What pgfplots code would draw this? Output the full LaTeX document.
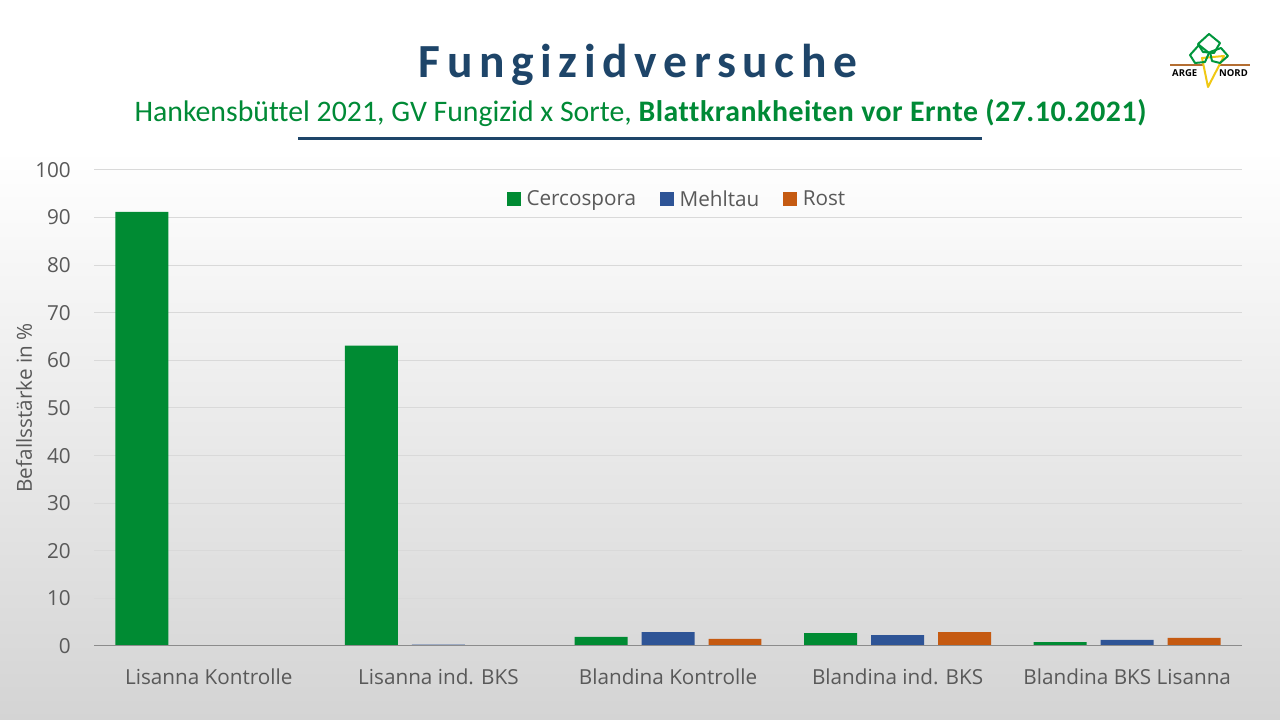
\documentclass[border=0pt]{standalone}
\usepackage{fontspec}
\setmainfont{Open Sans}
\newfontfamily\calibri[Ligatures=NoCommon]{Carlito}
\newfontfamily\calibrisp[LetterSpace=1.8,Ligatures=NoCommon]{Carlito}
\newfontfamily\titlefont[LetterSpace=14]{Carlito}
\usepackage{pgfplots}
\pgfplotsset{compat=1.18}
\definecolor{cgreen}{RGB}{0,139,51}
\definecolor{cblue}{RGB}{46,84,150}
\definecolor{corange}{RGB}{197,90,17}
\definecolor{ctext}{RGB}{89,89,89}
\definecolor{cgrid}{RGB}{217,217,217}
\definecolor{caxis}{RGB}{140,140,140}
\definecolor{ctitle}{RGB}{30,69,105}
\definecolor{csub}{RGB}{0,138,54}
\definecolor{bgbot}{RGB}{212,212,212}
\definecolor{logobrown}{RGB}{180,110,50}
\definecolor{logoyellow}{RGB}{240,200,20}
\definecolor{logogreen}{RGB}{0,150,60}
\newcommand\chartfont{\fontsize{20.7pt}{24pt}\selectfont}
\pgfplotstableread{
x cerc mehl rost
0 91.2 0   0
1 63.1 0.3 0
2 1.9  2.9 1.5
3 2.7  2.3 2.9
4 0.8  1.3 1.7
}\data
\begin{document}
\begin{tikzpicture}[x=1pt,y=1pt]
\fill[white] (0,0) rectangle (1280,720);
\shade[top color=white, bottom color=bgbot] (0,0) rectangle (1280,570);
\node[anchor=base, text=ctitle, inner sep=0] at (638,642) {\fontsize{47.5pt}{50pt}\titlefont\bfseries Fungizidversuche};
\node[anchor=base, text=csub, inner sep=0] at (640.5,598) {\fontsize{29.8pt}{32pt}\calibri Hankensbüttel 2021, GV Fungizid x Sorte, {\calibrisp\bfseries Blattkrankheiten vor Ernte (27.10.2021)}};
\draw[ctitle, line width=3pt] (298,581) -- (982,581);
% logo
\draw[logobrown, line width=1.5pt] (1170,655) -- (1250,655);
\draw[logoyellow, line width=2pt, fill=white, line join=round] (1202,662) -- (1208,633) -- (1224,664) -- cycle;
\draw[logogreen, line width=2pt, line join=round] (1190,665) -- (1199,675) -- (1209,667) -- (1205,658) -- (1195,657) -- cycle;
\draw[logogreen, line width=2pt, line join=round] (1198,676) -- (1209,686) -- (1220,677) -- (1214,667) -- (1203,668) -- cycle;
\draw[logogreen, line width=2pt, line join=round] (1210,668) -- (1221,672) -- (1228,664) -- (1220,657) -- (1212,659) -- cycle;
\node[anchor=base west, inner sep=0] at (1172,643) {\fontsize{9.5pt}{10pt}\selectfont\bfseries ARGE};
\node[anchor=base west, inner sep=0] at (1219,643) {\fontsize{9.5pt}{10pt}\selectfont\bfseries NORD};
\begin{axis}[
  at={(94pt,74pt)}, anchor=south west,
  scale only axis, width=1148pt, height=476pt,
  xmin=-0.5, xmax=4.5, ymin=0, ymax=100,
  ytick={0,10,...,100},
  xtick={0,1,2,3,4},
  xticklabels={Lisanna Kontrolle, Lisanna ind. BKS, Blandina Kontrolle, Blandina ind. BKS, Blandina BKS Lisanna},
  ymajorgrids, grid style={cgrid, line width=1pt},
  axis line style={draw=none},
  major tick length=0pt,
  tick label style={text=ctext, font=\chartfont},
  /pgf/number format/assume math mode=true,
  yticklabel style={anchor=east, inner sep=0pt, xshift=-23pt},
  xticklabel style={anchor=base, inner sep=0pt, yshift=-39pt},
  ylabel={Befallsstärke in \%},
  ylabel style={at={(axis description cs:-0.061,0.5)}, anchor=center, text=ctext, font=\chartfont},
  legend columns=3,
  legend style={at={(0.508,0.939)}, anchor=center, draw=none, fill=none, font=\chartfont, text=ctext,
    /tikz/every odd column/.append style={column sep=4pt},
    /tikz/every even column/.append style={column sep=22pt}},
  legend cell align=left,
]
\addplot[ybar, bar width=0.2308, bar shift=-0.2918, fill=cgreen, draw=none, forget plot] table[x=x, y=cerc] {\data};
\addplot[ybar, bar width=0.2308, bar shift=0, fill=cblue, draw=none, forget plot] table[x=x, y=mehl] {\data};
\addplot[ybar, bar width=0.2308, bar shift=0.2918, fill=corange, draw=none, forget plot] table[x=x, y=rost] {\data};
\draw[caxis, line width=1.3pt] (axis cs:-0.5,0) -- (axis cs:4.5,0);
\addlegendimage{legend image code/.code={\fill[cgreen] (0pt,-6.5pt) rectangle (13pt,6.5pt);}}
\addlegendentry{Cercospora}
\addlegendimage{legend image code/.code={\fill[cblue] (0pt,-6.5pt) rectangle (13pt,6.5pt);}}
\addlegendentry{Mehltau}
\addlegendimage{legend image code/.code={\fill[corange] (0pt,-6.5pt) rectangle (13pt,6.5pt);}}
\addlegendentry{Rost}
\end{axis}
\end{tikzpicture}
\end{document}
